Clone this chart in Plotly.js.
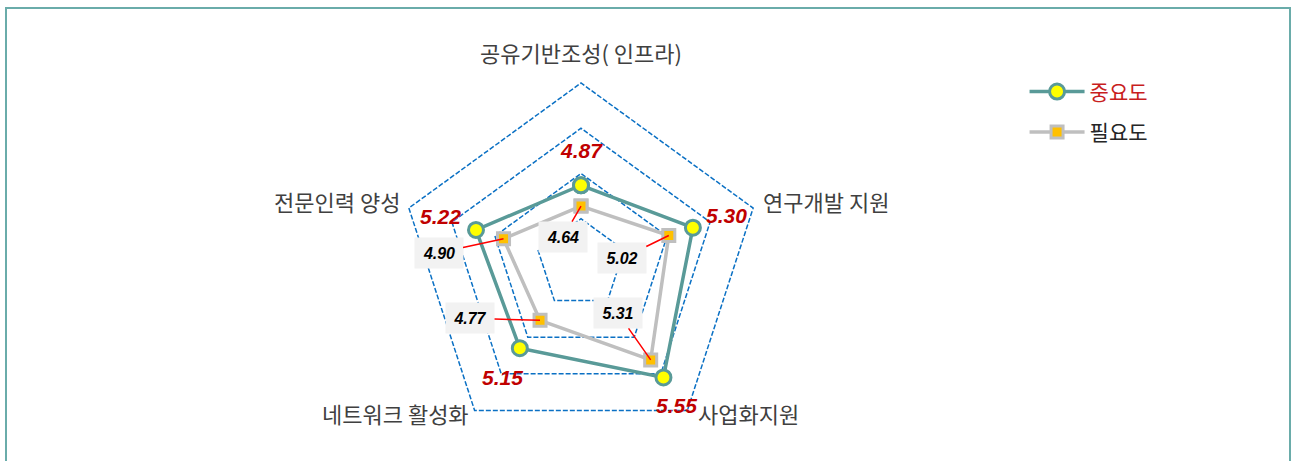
<!DOCTYPE html>
<html>
<head>
<meta charset="utf-8">
<script src="https://cdn.plot.ly/plotly-3.0.1.min.js"></script>
<style>html,body{margin:0;padding:0;background:#fff;}#chart{width:1292px;height:461px;}</style>
</head>
<body>
<div id="chart"></div>
<script>
const categories = ['공유기반조성( 인프라)', '연구개발 지원', '사업화지원', '네트워크 활성화', '전문인력 양성'];
const importance = [4.87, 5.30, 5.55, 5.15, 5.22];
const necessity = [4.64, 5.02, 5.31, 4.77, 4.90];
const seriesNames = ['중요도', '필요도'];
const rMin = 4, rMax = 6, rPad = 0.012;

// label offsets (pixels) relative to each point
const impShift = [[0, 35], [34, 12], [13, -28], [-17, -29], [-35, 13]];
const necOffset = [[-18, 31], [-47, 23], [-33, -47], [-70, -2], [-65, 14]];
// category label placement relative to outer vertex
const catPlace = [
  {xanchor: 'center', xshift: 0, yshift: 31},
  {xanchor: 'left', xshift: 8, yshift: 7},
  {xanchor: 'left', xshift: 9, yshift: -3},
  {xanchor: 'right', xshift: -4, yshift: -3},
  {xanchor: 'right', xshift: -7, yshift: 7}
];

const W = 1292, H = 461;
const cx = 581, cy = 264, R = 181 * (rMax + rPad - rMin) / (rMax - rMin);
const domX = [(cx - R) / W, (cx + R) / W];
const domY = [(H - cy - R) / H, (H - cy + R) / H];

const closeArr = a => a.concat([a[0]]);
const catsClosed = closeArr(categories);
const gridColor = '#0a70c4';
const gridDash = '5px,2px';

const traces = [
  {
    type: 'scatterpolar', r: closeArr(necessity), theta: catsClosed,
    name: seriesNames[1],
    mode: 'lines+markers',
    line: {color: '#bfbfbf', width: 3.5},
    marker: {symbol: 'square', size: 12, color: '#ffc000', line: {color: '#bfbfbf', width: 3}},
    legendgroup: 'b', legendrank: 2, hoverinfo: 'skip'
  },
  {
    type: 'scatterpolar', r: closeArr(importance), theta: catsClosed,
    name: '<span style="color:#c81e1e">' + seriesNames[0] + '</span>',
    mode: 'lines+markers',
    line: {color: '#599a98', width: 3.5},
    marker: {symbol: 'circle', size: 15, color: '#ffff00', line: {color: '#599a98', width: 3}},
    legendgroup: 'a', legendrank: 1, hoverinfo: 'skip'
  }
];

// value/category index -> normalized coords on overlay axes spanning the polar domain
const rSpan = rMax + rPad - rMin;
function pos(v, i) {
  const ang = (90 - i * 72) * Math.PI / 180;
  const rr = (v - rMin) / rSpan;
  return [rr * Math.cos(ang), rr * Math.sin(ang)];
}

const annotations = [];
categories.forEach((c, i) => {
  const p = pos(rMax, i);
  annotations.push(Object.assign({
    xref: 'x', yref: 'y', x: p[0], y: p[1], showarrow: false, yanchor: 'middle',
    text: c,
    font: {family: 'Noto Sans CJK KR, sans-serif', size: 22, color: '#404040'}
  }, catPlace[i]));
});
importance.forEach((v, i) => {
  const p = pos(v, i);
  annotations.push({
    xref: 'x', yref: 'y', x: p[0], y: p[1], showarrow: false,
    xshift: impShift[i][0], yshift: impShift[i][1],
    text: '<b><i>' + v.toFixed(2) + '</i></b>',
    font: {family: 'Liberation Sans, Arial, sans-serif', size: 21, color: '#c00000'}
  });
});
necessity.forEach((v, i) => {
  const p = pos(v, i);
  annotations.push({
    xref: 'x', yref: 'y', x: p[0], y: p[1], showarrow: true,
    ax: necOffset[i][0], ay: necOffset[i][1],
    arrowhead: 0, arrowwidth: 1.5, arrowcolor: '#ff0000', standoff: 0,
    text: '<b><i>' + v.toFixed(2) + '</i></b>',
    font: {family: 'Liberation Sans, Arial, sans-serif', size: 16, color: '#000000'},
    bgcolor: '#f2f2f2', width: 36, height: 18, borderpad: 6
  });
});

const layout = {
  width: W, height: H,
  margin: {l: 0, r: 0, t: 0, b: 0},
  paper_bgcolor: '#ffffff', plot_bgcolor: 'rgba(0,0,0,0)',
  showlegend: true,
  legend: {
    x: 0.793, y: 0.845, xanchor: 'left', yanchor: 'top',
    font: {family: 'Noto Sans CJK KR, sans-serif', size: 21, color: '#262626'},
    traceorder: 'grouped', tracegroupgap: 10, itemwidth: 55,
    bgcolor: 'rgba(0,0,0,0)'
  },
  polar: {
    domain: {x: domX, y: domY},
    bgcolor: 'rgba(0,0,0,0)',
    gridshape: 'linear',
    radialaxis: {
      range: [rMin, rMax + rPad], tick0: rMin, dtick: 0.5,
      showticklabels: false, ticks: '', showline: false,
      gridcolor: gridColor, gridwidth: 1.5, griddash: gridDash
    },
    angularaxis: {
      rotation: 90, direction: 'clockwise',
      showgrid: false, showline: false, ticks: '', showticklabels: false
    }
  },
  xaxis: {domain: domX, range: [-1, 1], visible: false, fixedrange: true},
  yaxis: {domain: domY, range: [-1, 1], visible: false, fixedrange: true},
  annotations: annotations,
  shapes: [{
    type: 'rect', xref: 'paper', yref: 'paper',
    x0: 6 / W, x1: 1290 / W, y0: -0.05, y1: 1 - 8 / H,
    line: {color: '#6aacaa', width: 2}, fillcolor: 'rgba(0,0,0,0)', layer: 'below'
  }]
};

Plotly.newPlot('chart', traces, layout, {staticPlot: true, displayModeBar: false});
</script>
</body>
</html>
